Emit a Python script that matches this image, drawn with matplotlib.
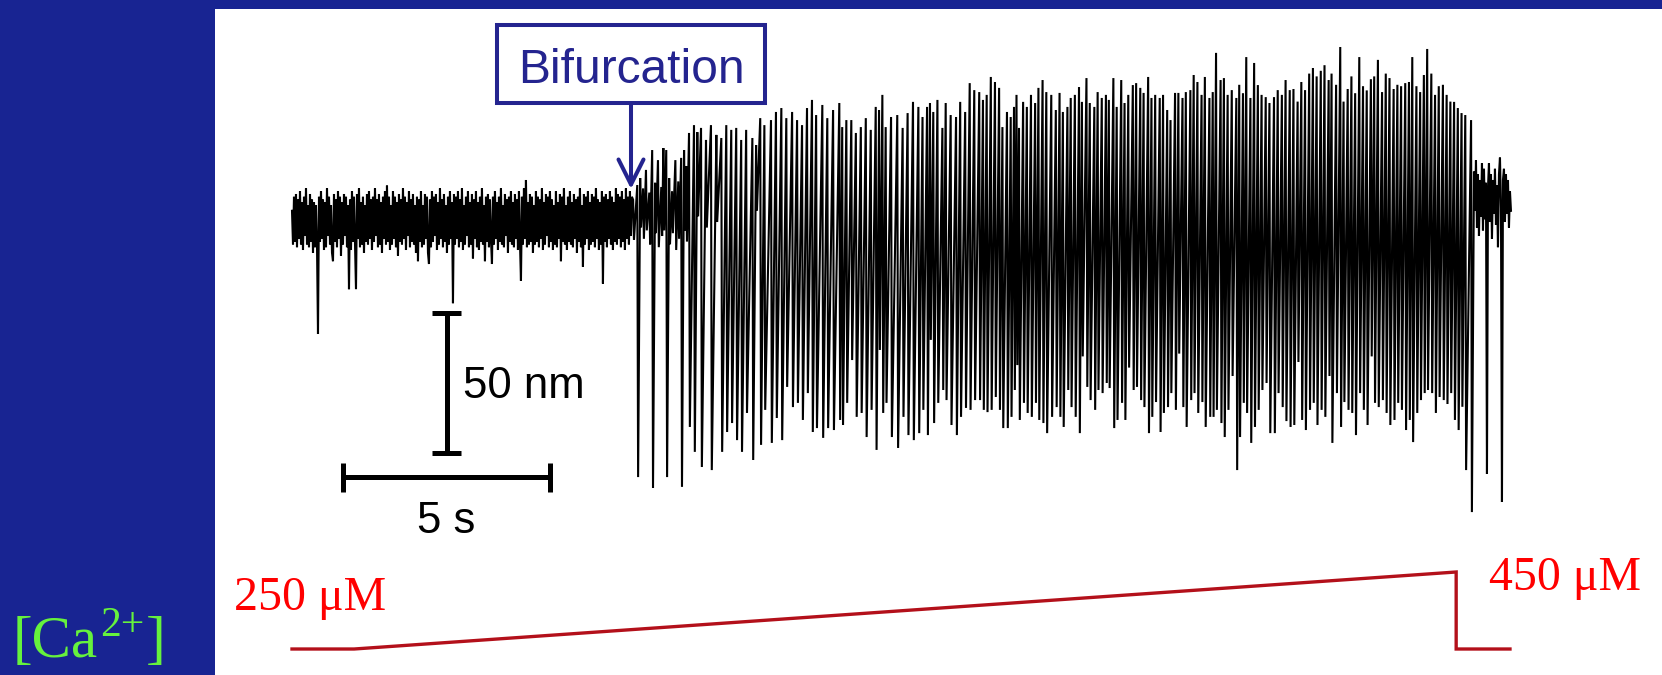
import numpy as np
import matplotlib
matplotlib.use("Agg")
import matplotlib.pyplot as plt
from matplotlib.patches import Rectangle

# ------------------------------------------------------------------ data
# baseline (pre-bifurcation) displacement, nm, sampled every pre_dt seconds
pre_dt = 0.02415
pre_nm = [4, -8, 9, -7, 10, -9, 8, -6, 11, -8, 7, -10, 9, -5, 12, -8, 6, -9, 10, -7,
          8, -11, 7, -9, 6, -8, -40, 9, -7, 11, -6, 8, -10, 7, -9, 12, -5, 9, -8, 6,
          -11, -14, 10, -7, 8, -9, 11, -6, 9, -12, 7, -8, 10, -5, 9, -9, 6, -24, 8, -10,
          11, -7, 9, -8, -24, 10, -6, 12, -9, 7, -8, 9, -11, 6, -7, 10, -8, 11, -6, 8,
          -10, 9, -7, 12, -5, 8, -9, 10, -8, 7, -11, 9, -6, 11, -8, 13, -7, 9, -10, 6,
          -8, 11, -6, 9, -9, 7, -12, 10, -7, 8, -8, 12, -6, 9, -10, 7, -5, 11, -9, 8,
          -7, 10, -8, 6, -11, 9, -14, 8, -7, 11, -9, 6, -8, 10, -6, 9, -11, -15, 8, -9,
          11, -7, 9, -5, 10, -10, 7, -8, 12, -6, 8, -9, 10, -7, 6, -11, 9, -8, 11, -6,
          7, -29, 10, -8, 9, -6, 11, -9, 8, -7, 12, -10, 6, -8, 9, -5, 11, -9, 7, -8,
          10, -13, 8, -6, 11, -9, 7, -10, 9, -7, 12, -8, 6, -14, 9, -7, 10, -9, 8, -6,
          -15, 9, -8, 11, -6, 7, -10, 9, -7, 12, -8, 6, -9, 10, -5, 8, -11, 9, -7, 11,
          -8, 7, -9, 10, -6, 8, -10, 11, -7, -21, 9, -8, 12, -6, 15, -9, 7, -8, 10, -7,
          9, -11, 6, -8, 11, -7, 9, -9, 8, -6, 12, -10, 7, -8, 10, -5, 9, -9, 11, -7,
          8, -10, 6, -8, 11, -9, 7, -6, 10, -14, 9, -7, 12, -8, 6, -10, 9, -7, 11, -8,
          7, -9, 10, -6, 8, -11, 9, -7, 12, -9, 6, -16, 10, -8, 9, -6, 11, -10, 7, -8,
          10, -7, 9, -9, 12, -6, 8, -10, 7, -8, 11, -22, 9, -7, 10, -9, 8, -6, 11, -8,
          9, -10, 7, -7, 12, -8, 10, -6, 9, -9, 11, -7, 8, -10, 12, -6, 9, -8, 11, -5, 9]

# oscillation cycles after the bifurcation: time of each downstroke (s),
# the peak just before it (nm) and the trough it reaches (nm)
osc_t = [8.26, 8.36, 8.43, 8.50, 8.57, 8.65, 8.72, 8.79, 8.86, 8.94,
         8.99, 9.06, 9.13, 9.20, 9.28, 9.35, 9.42, 9.49, 9.54, 9.61,
         9.73, 9.81, 9.90, 10.02, 10.14, 10.27, 10.39, 10.51, 10.63, 10.75,
         10.87, 10.99, 11.14, 11.23, 11.33, 11.43, 11.59, 11.71, 11.84, 11.96,
         12.10, 12.22, 12.34, 12.46, 12.58, 12.68, 12.83, 12.95, 13.09, 13.24,
         13.31, 13.41, 13.53, 13.64, 13.76, 13.88, 14.00, 14.12, 14.20, 14.28,
         14.36, 14.49, 14.64, 14.77, 14.89, 15.02, 15.15, 15.25, 15.36, 15.43,
         15.51, 15.61, 15.73, 15.81, 15.93, 16.06, 16.16, 16.28, 16.39, 16.50,
         16.62, 16.71, 16.80, 16.90, 17.00, 17.10, 17.18, 17.29, 17.38, 17.46,
         17.52, 17.58, 17.68, 17.77, 17.87, 17.97, 18.05, 18.15, 18.24, 18.36,
         18.47,
         18.56, 18.64, 18.75, 18.83, 18.93, 19.03, 19.10, 19.21, 19.29, 19.40,
         19.48, 19.58, 19.68, 19.75, 19.86, 19.94, 20.05, 20.13, 20.22, 20.33,
         20.41, 20.51, 20.59, 20.70, 20.78, 20.87, 20.98, 21.06, 21.16, 21.24,
         21.35, 21.43, 21.53, 21.61, 21.72, 21.80, 21.89, 21.99, 22.07, 22.18,
         22.26, 22.34, 22.45, 22.53, 22.62, 22.72, 22.83, 22.90, 22.99, 23.07,
         23.17, 23.26, 23.35, 23.44, 23.54, 23.63,
         23.74, 23.83, 23.93, 24.02, 24.12, 24.21, 24.31, 24.40, 24.49, 24.59,
         24.68, 24.77, 24.87, 24.96, 25.06, 25.13, 25.24, 25.34, 25.42, 25.52,
         25.61, 25.70, 25.80, 25.89, 25.98, 26.08, 26.16, 26.25, 26.35, 26.44,
         26.53, 26.63, 26.72, 26.81, 26.91, 27.00, 27.08, 27.18, 27.27, 27.36,
         27.44, 27.54, 27.63, 27.72, 27.82, 27.91, 28.00, 28.09, 28.18, 28.27,
         28.36, 28.50]
osc_peak = [7.9, 13.2, 15.7, 12.0, 18.6, 10.5, 25.7, 14.0, 22.1, 12.5,
            26.4, 25.7, 15.7, 11.0, 22.1, 14.5, 22.9, 25.7, 20.0, 31.8,
            34.6, 32.1, 33.6, 29.3, 34.6, 31.1, 30.0, 34.6, 32.9, 33.6,
            29.3, 32.9, 30.0, 27.5, 37.1, 34.6, 36.4, 39.3, 40.7, 37.1,
            39.3, 36.4, 34.6, 40.7, 43.6, 38.2, 41.8, 37.1, 40.0, 42.5,
            33.9, 36.4, 36.4, 31.8, 33.9, 37.1, 32.9, 41.1, 40.0, 45.4,
            33.9, 37.5, 38.2, 33.6, 38.9, 42.9, 41.1, 37.5, 41.1, 42.5,
            39.3, 43.6, 33.6, 42.5, 38.2, 37.5, 42.9, 39.3, 49.6, 47.1,
            46.4, 43.6, 45.4, 51.8, 50.0, 47.9, 33.9, 39.3, 37.5, 41.1,
            45.4, 33.6, 42.9, 41.1, 45.4, 42.5, 47.9, 50.7, 46.4, 45.4,
            40.0,
            46.1, 39.3, 41.1, 44.3, 45.4, 48.2, 42.9, 51.4, 42.5, 41.1,
            46.4, 44.3, 45.4, 43.6, 51.4, 41.1, 50.7, 42.5, 45.4, 48.9,
            49.6, 47.9, 46.1, 51.8, 44.3, 45.4, 44.3, 45.4, 40.0, 36.4,
            46.1, 46.1, 44.3, 46.4, 47.1, 52.5, 50.0, 45.4, 51.8, 44.3,
            46.4, 60.4, 50.7, 51.4, 45.4, 47.1, 44.3, 49.0, 46.0, 58.9,
            44.3, 56.8, 48.9, 45.4, 44.6, 42.5,
            44.6, 47.1, 45.4, 50.7, 47.1, 47.5, 43.0, 50.0, 47.1, 53.0,
            55.0, 52.0, 54.0, 56.0, 50.7, 53.0, 49.0, 62.5, 43.0, 47.5,
            52.0, 46.0, 58.9, 48.5, 47.0, 51.0, 52.0, 57.9, 46.4, 53.0,
            51.4, 47.5, 49.0, 48.5, 49.6, 50.0, 58.9, 48.5, 46.4, 52.5,
            61.8, 53.0, 45.4, 48.5, 49.0, 45.4, 43.0, 42.9, 40.7, 38.9,
            38.2, 36.4]
osc_trough = [-6.4, -91.1, -2.0, -6.0, -3.0, -8.0, -95.0, -4.0, -9.0, -5.0,
              -3.0, -91.1, -8.0, -4.0, -10.0, -6.0, -94.6, -3.0, -7.0, -73.2,
              -82.1, 2.0, -87.5, -2.0, -88.6, 0.0, -82.1, -75.0, -71.8, -77.9,
              -82.1, -68.2, -85.0, 4.0, -79.6, -67.1, -78.9, -70.0, -77.9, -58.9,
              -66.1, -64.6, -70.7, -61.1, -75.0, -73.6, -77.1, -73.6, -74.3, -70.7,
              -72.5, -64.6, -49.3, -69.6, -68.2, -76.8, -67.1, -81.4, -45.7, -68.2,
              -64.6, -76.8, -80.7, -69.6, -76.1, -77.9, -75.4, -67.1, -76.1, -42.1,
              -71.8, -64.6, -60.0, -63.6, -72.5, -76.1, -69.6, -66.4, -67.1, -63.6,
              -63.6, -67.1, -67.9, -67.1, -62.5, -67.1, -73.6, -73.6, -69.6, -60.0,
              -51.1, -70.7, -64.6, -68.2, -69.6, -64.6, -70.7, -71.8, -75.4, -69.6,
              -66.1,
              -69.6, -73.2, -60.0, -66.1, -69.6, -75.4, -48.0, -58.9, -63.6, -67.1,
              -60.0, -61.1, -57.5, -59.3, -73.6, -70.7, -64.6, -70.7, -52.0, -60.0,
              -58.9, -63.6, -66.1, -75.4, -69.6, -64.3, -75.0, -68.2, -66.1, -61.1,
              -67.1, -47.0, -66.1, -73.2, -63.6, -61.1, -68.2, -64.3, -73.2, -69.6,
              -69.6, -67.1, -71.8, -76.8, -67.1, -55.0, -88.6, -76.8, -64.6, -68.2,
              -78.9, -73.2, -67.1, -60.0, -57.5, -75.4,
              -75.4, -61.1, -66.1, -71.1, -73.2, -72.5, -50.0, -70.7, -74.3, -67.1,
              -64.6, -72.5, -67.1, -69.6, -55.0, -78.9, -61.1, -73.2, -64.3, -67.1,
              -68.2, -76.1, -61.1, -67.1, -72.5, -48.0, -64.6, -66.1, -63.6, -68.2,
              -72.5, -70.7, -64.6, -67.1, -74.3, -70.7, -78.6, -68.2, -63.6, -61.1,
              -60.0, -61.1, -68.2, -62.5, -63.6, -65.0, -61.1, -70.7, -74.3, -66.0,
              -88.6, -103.6]

# trace after the oscillations stop, nm, sampled every tail_dt from tail_t0
tail_t0 = 28.55
tail_dt = 0.02415
tail_nm = [18, 4, 22, -2, 17, -5, 15, 2, 21, -3,
           19, 1, 14, -90, 12, 21, 0, 17, -6, 15,
           3, 19, -1, 13, -9, 17, 23, 5, -100, 15,
           19, 0, 17, 3, 15, -2, 11, 4]

# calcium protocol
ca_t = [0.0, 1.5, 28.12, 28.12, 29.42]
ca_uM = [250, 250, 450, 250, 250]
ca_low_label = "250 \u03bcM"
ca_high_label = "450 \u03bcM"

# scale bars
scale_nm = 50
scale_s = 5
scale_nm_label = "50 nm"
scale_s_label = "5 s"
event_label = "Bifurcation"

# ------------------------------------------------------------------ style
W, H = 1662, 675
NAVY_BG = "#182492"
NAVY = "#24248f"
GREEN = "#66f23d"
SANS = ["Liberation Sans", "DejaVu Sans"]
SERIF = ["Liberation Serif", "DejaVu Serif"]

PX_PER_S = 41.4
PX_PER_NM = 2.8
X0, Y0 = 292, 222          # pixel of (t=0, 0 nm)


def fig_rect(x0, y0, x1, y1):
    """pixel box (top-left origin) -> figure fraction rect"""
    return [x0 / W, 1 - y1 / H, (x1 - x0) / W, (y1 - y0) / H]


fig = plt.figure(figsize=(W / 100, H / 100), dpi=100, facecolor=NAVY_BG)
fig.add_artist(Rectangle((215 / W, 0), 1 - 215 / W, 1 - 9 / H,
                         transform=fig.transFigure, fc="white", ec="none", zorder=0))

# ---- trace axes
ax = fig.add_axes(fig_rect(250, 15, 1560, 545))
ax.set_xlim((250 - X0) / PX_PER_S, (1560 - X0) / PX_PER_S)
ax.set_ylim((Y0 - 545) / PX_PER_NM, (Y0 - 15) / PX_PER_NM)
ax.axis("off")
ax.patch.set_alpha(0)

tt = list(np.arange(len(pre_nm)) * pre_dt)
yy = list(pre_nm)
drop = 0.02
for t, p, tr in zip(osc_t, osc_peak, osc_trough, strict=True):
    tt += [t - drop, t]
    yy += [p, tr]
tt += list(tail_t0 + np.arange(len(tail_nm)) * tail_dt)
yy += list(tail_nm)
ax.plot(tt, yy, color="black", lw=1.5, solid_joinstyle="miter")

# scale bars
bar_kw = dict(color="black", lw=3.6, solid_capstyle="butt")
vx, vy0 = 3.74, -82.5
ax.plot([vx, vx], [vy0, vy0 + scale_nm], **bar_kw)
for yv in (vy0, vy0 + scale_nm):
    ax.plot([vx - 0.35, vx + 0.35], [yv, yv], **bar_kw)
hx0, hy = 1.23, -91.1
ax.plot([hx0, hx0 + scale_s], [hy, hy], **bar_kw)
for xv in (hx0, hx0 + scale_s):
    ax.plot([xv, xv], [hy - 5.2, hy + 5.2], **bar_kw)

# ---- calcium axes
axc = fig.add_axes(fig_rect(250, 545, 1560, 675))
axc.set_xlim((250 - X0) / PX_PER_S, (1560 - X0) / PX_PER_S)
axc.set_ylim(182.5, 520.1)
axc.axis("off")
axc.patch.set_alpha(0)
axc.plot(ca_t, ca_uM, color="#b3101a", lw=2.4, solid_joinstyle="miter")

# ---- overlay for annotations (pixel coordinates)
ov = fig.add_axes([0, 0, 1, 1])
ov.set_xlim(0, W)
ov.set_ylim(H, 0)
ov.axis("off")
ov.patch.set_alpha(0)

ov.add_patch(Rectangle((497, 25), 268, 78, fill=False, ec=NAVY, lw=2.9))
ov.text(631, 83, event_label, ha="center", va="baseline", fontsize=34.5,
        color=NAVY, family=SANS)
ov.annotate("", xy=(631, 189), xytext=(631, 104),
            arrowprops=dict(arrowstyle="->", color=NAVY, lw=2.9,
                            mutation_scale=45, shrinkA=0, shrinkB=0))

ov.text(463, 398, scale_nm_label, ha="left", va="baseline", fontsize=31.5,
        color="black", family=SANS)
ov.text(446, 533, scale_s_label, ha="center", va="baseline", fontsize=31.5,
        color="black", family=SANS)

ov.text(234, 610, ca_low_label, ha="left", va="baseline", fontsize=34.5,
        color="#ff0000", family=SERIF)
ov.text(1489, 590, ca_high_label, ha="left", va="baseline", fontsize=34.5,
        color="#ff0000", family=SERIF)
# [Ca2+] label: base text, raised superscript, closing bracket
ov.text(13, 657, "[Ca", ha="left", va="baseline", fontsize=42.5,
        color=GREEN, family=SERIF)
ov.text(100, 636, "2+", ha="left", va="baseline", fontsize=30,
        color=GREEN, family=SERIF)
ov.text(146, 657, "]", ha="left", va="baseline", fontsize=42.5,
        color=GREEN, family=SERIF)

fig.savefig("out.png", dpi=100, facecolor=NAVY_BG)
